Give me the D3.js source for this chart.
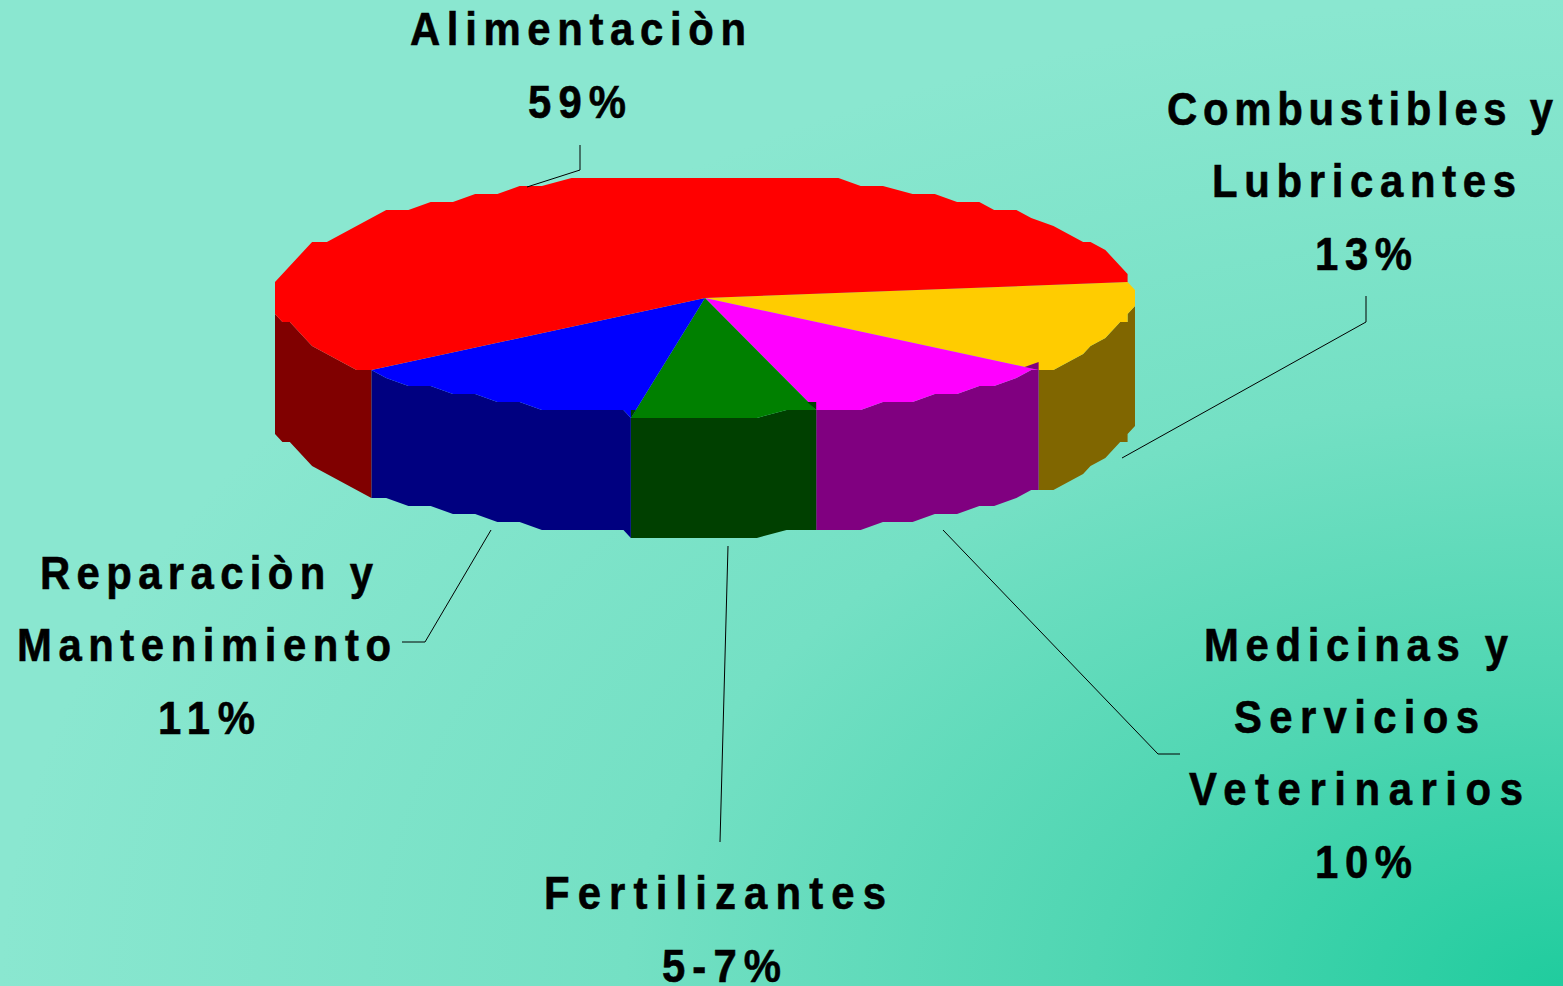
<!DOCTYPE html>
<html>
<head>
<meta charset="utf-8">
<script src="https://cdn.jsdelivr.net/npm/d3@7"></script>
<style>
html,body{margin:0;padding:0;overflow:hidden;background:#8ee9d3}
svg{display:block}
text{font-family:"Liberation Sans",Arial,sans-serif;font-weight:700;font-size:46.5px;fill:#000;stroke:#000;stroke-width:0.6px}
</style>
</head>
<body>
<svg id="c" width="1563" height="986"></svg>
<script>
const categories = ["Combustibles y Lubricantes","Medicinas y Servicios Veterinarios","Fertilizantes","Reparaciòn y Mantenimiento","Alimentaciòn"];
const values = [13,10,7,11.3,58.7];
const percentLabels = ["13%","10%","5-7%","11%","59%"];
const topColors = ["#ffcc00","#ff00ff","#008000","#0000ff","#ff0000"];
const wallColors = ["#806600","#800080","#004000","#000080","#800000"];

const W=1563,H=986;
const svg=d3.select("#c");
const defs=svg.append("defs");
const g=defs.append("radialGradient").attr("id","bg").attr("cx",1).attr("cy",1).attr("r",1.0).attr("fx",1).attr("fy",1);
[[0,"#20cc9e"],[0.3,"#4fd6b2"],[0.6,"#74e0c4"],[1,"#8ae7d0"]].forEach(s=>g.append("stop").attr("offset",s[0]).attr("stop-color",s[1]));
svg.append("rect").attr("width",W).attr("height",H).attr("fill","url(#bg)");

const px=d3.scaleLinear().domain([-1,1]).range([275,1135]);
const py=d3.scaleLinear().domain([-1,1]).range([178,418]);
const depth=120, gridX=860/116, gridY=8, stepDeg=3.6, bias=2;
const snapX=x=>275+gridX*Math.floor((x+bias-275)/gridX);
const snapY=y=>178+gridY*Math.floor((y+bias-178)/gridY);
const pt=(t,dy=0)=>[snapX(px(Math.cos(t))),snapY(py(Math.sin(t)))+dy];
const rad=Math.PI/180;

function arcAngles(t0,t1){
  const out=[t0];
  const s=stepDeg*rad;
  for(let k=Math.ceil(t0/s+1e-6);k*s<t1-1e-6;k++) out.push(k*s);
  out.push(t1);
  return out;
}

const pie=d3.pie().sort(null).startAngle(82*rad).endAngle(442*rad);
const arcs=pie(values).map((d,i)=>({i,t0:d.startAngle-Math.PI/2,t1:d.endAngle-Math.PI/2}));
const line=d3.line();
const seamAngle=arcs[4].t0;

const gWall=svg.append("g");
arcs.forEach(a=>{
  const w0=Math.max(a.t0,0), w1=Math.min(a.t1,Math.PI);
  if(w1<=w0) return;
  const th=arcAngles(w0,w1);
  const bottom=th.slice().reverse().map(t=>pt(t,Math.abs(t-seamAngle)<0.006?depth+8:depth));
  const pts=th.map(t=>pt(t)).concat(bottom);
  gWall.append("path").attr("d",line(pts)+"Z").attr("fill",wallColors[a.i]);
});
const cx=px(0),cy=py(0);
const gTop=svg.append("g");
arcs.forEach(a=>{
  const pts=[[cx,cy]].concat(arcAngles(a.t0,a.t1).map(t=>pt(t)));
  gTop.append("path").attr("d",line(pts)+"Z").attr("fill",topColors[a.i]);
});

// small wall slivers that poke above the rim at the slice joins
const mag=pt(arcs[1].t0), grA=pt(arcs[2].t0), grB=pt(arcs[2].t1);
svg.append("g").selectAll("path").data([
  {p:[mag,[mag[0],mag[1]-8],[mag[0]-14,mag[1]-3]],c:wallColors[1]},
  {p:[grA,[grA[0],grA[1]-8],[grA[0]-9,grA[1]-8]],c:wallColors[2]},
  {p:[grB,[grB[0],grB[1]-8],[grB[0]+5,grB[1]-8]],c:wallColors[2]}
]).join("path").attr("d",d=>line(d.p)+"Z").attr("fill",d=>d.c);

const leaders=[
 [[1366,296],[1366,322],[1122,458]],
 [[1180,754],[1158,754],[943,530]],
 [[720,842],[728,546]],
 [[402,642],[425,642],[491,530]],
 [[580,145],[580,170],[527,187]]
];
svg.append("g").selectAll("path").data(leaders).join("path")
  .attr("d",d=>line(d)).attr("fill","none").attr("stroke","#000").attr("stroke-width",1);

const textLayout=[
 ["Alimentaciòn",410,746,45],["59%",528,626,118],
 ["Combustibles y",1167,1553,125],["Lubricantes",1212,1516,197],["13%",1315,1412,270],
 ["Medicinas y",1204,1508,661],["Servicios",1234,1479,733],["Veterinarios",1189,1523,805],["10%",1315,1412,878],
 ["Fertilizantes",544,886,909],["5-7%",662,781,982],
 ["Reparaciòn y",40,373,589],["Mantenimiento",17,391,661],["11%",158,255,734]
];
const sx=0.9;
svg.append("g").selectAll("text").data(textLayout).join("text")
  .attr("transform",d=>`translate(${d[1]},${d[3]}) scale(${sx},1)`)
  .attr("textLength",d=>(d[2]-d[1])/sx).attr("lengthAdjust","spacing").text(d=>d[0]);
</script>
</body>
</html>
